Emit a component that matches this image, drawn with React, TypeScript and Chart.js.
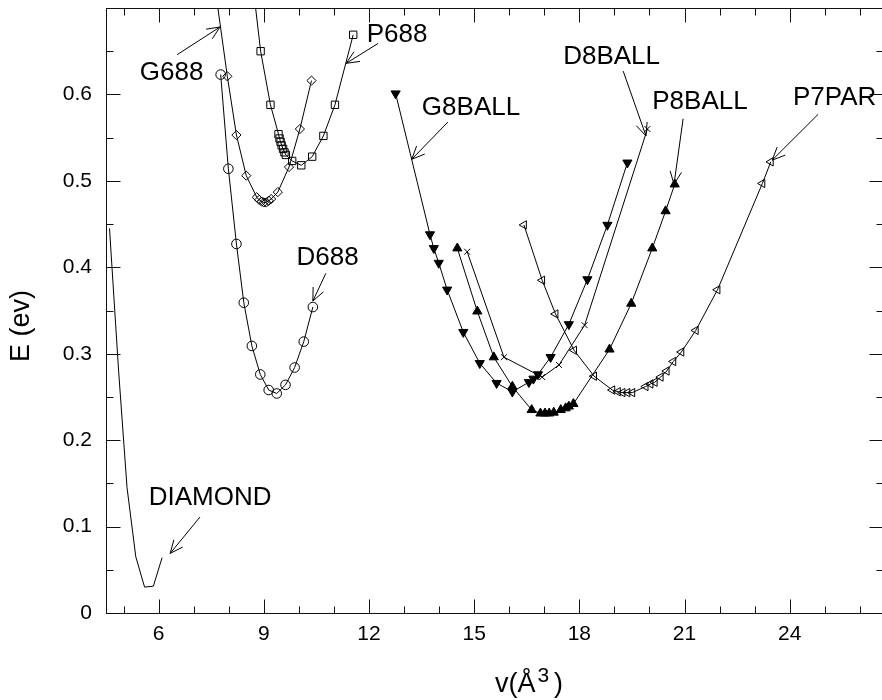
import React, { useEffect, useRef } from 'react';
import { Chart, registerables } from 'chart.js';

Chart.register(...registerables);

// ---------- tick values / labels ----------
const xTickValues = [6, 9, 12, 15, 18, 21, 24];
const xTickLabels = ['6', '9', '12', '15', '18', '21', '24'];
const xMinorTicks = [5, 7, 8, 10, 11, 13, 14, 16, 17, 19, 20, 22, 23, 25, 26];
const yTickValues = [0, 0.1, 0.2, 0.3, 0.4, 0.5, 0.6];
const yTickLabels = ['0', '0.1', '0.2', '0.3', '0.4', '0.5', '0.6'];
const yMinorTicks = [0.05, 0.15, 0.25, 0.35, 0.45, 0.55, 0.65];

// ---------- series ----------
const diamondV = [4.6, 4.86, 5.1, 5.35, 5.6, 5.85, 6.1];
const diamondE = [0.445, 0.28, 0.145, 0.065, 0.03, 0.031, 0.064];

const d688V = [7.77, 7.99, 8.22, 8.43, 8.66, 8.9, 9.14, 9.37, 9.62, 9.88, 10.14, 10.4];
const d688E = [0.623, 0.514, 0.427, 0.359, 0.309, 0.276, 0.258, 0.254, 0.264, 0.284, 0.314, 0.354];

const g688V = [7.35, 7.96, 8.22, 8.5, 8.8, 8.87, 8.94, 9.0, 9.07, 9.14, 9.21, 9.4, 9.72, 10.03, 10.36];
const g688E = [0.8, 0.621, 0.553, 0.506, 0.481, 0.478, 0.476, 0.475, 0.475, 0.477, 0.479, 0.487, 0.516, 0.56, 0.616];

const p688V = [8.48, 8.91, 9.19, 9.42, 9.45, 9.48, 9.51, 9.55, 9.59, 9.63, 9.81, 10.07, 10.38, 10.7, 11.03, 11.55];
const p688E = [0.8, 0.65, 0.588, 0.554, 0.549, 0.545, 0.541, 0.537, 0.533, 0.53, 0.523, 0.518, 0.528, 0.552, 0.588, 0.669];

const g8ballV = [12.76, 13.74, 13.85, 13.99, 14.23, 14.69, 15.16, 15.64, 16.09, 16.56, 16.69, 16.82, 17.18, 17.7, 18.23, 18.8, 19.37];
const g8ballE = [0.601, 0.438, 0.422, 0.405, 0.374, 0.325, 0.289, 0.266, 0.256, 0.267, 0.271, 0.276, 0.296, 0.334, 0.386, 0.449, 0.521];

const p8ballV = [14.52, 15.09, 15.56, 16.09, 16.64, 16.89, 17.02, 17.14, 17.27, 17.47, 17.61, 17.7, 17.83, 18.86, 19.48, 20.08, 20.46, 20.72];
const p8ballE = [0.422, 0.349, 0.296, 0.262, 0.235, 0.231, 0.231, 0.231, 0.232, 0.235, 0.237, 0.239, 0.242, 0.305, 0.358, 0.422, 0.465, 0.496];

const d8ballV = [14.8, 15.85, 16.94, 17.42, 18.15, 19.94];
const d8ballE = [0.418, 0.296, 0.273, 0.287, 0.333, 0.56];

const p7parV = [16.42, 16.94, 17.32, 17.85, 18.42, 18.94, 19.1, 19.23, 19.37, 19.51, 19.89, 20.03, 20.15, 20.32, 20.49, 20.68, 20.91, 21.32, 21.94, 23.22, 23.46];
const p7parE = [0.449, 0.385, 0.346, 0.304, 0.274, 0.258, 0.256, 0.255, 0.255, 0.255, 0.262, 0.265, 0.267, 0.273, 0.28, 0.291, 0.302, 0.327, 0.374, 0.497, 0.522];

// ---------- annotations (data coordinates) ----------
const annotations = [
  { text: 'G688', at: [6.37, 0.625], from: [6.53, 0.646], to: [7.75, 0.678] },
  { text: 'P688', at: [12.8, 0.669], from: [12.26, 0.659], to: [11.35, 0.636] },
  { text: 'D688', at: [10.82, 0.411], from: [10.77, 0.393], to: [10.4, 0.361] },
  { text: 'DIAMOND', at: [7.47, 0.133], from: [7.18, 0.111], to: [6.33, 0.069] },
  { text: 'G8BALL', at: [14.91, 0.585], from: [14.25, 0.568], to: [13.22, 0.525] },
  { text: 'D8BALL', at: [18.92, 0.644], from: [19.25, 0.627], to: [19.9, 0.552] },
  { text: 'P8BALL', at: [21.44, 0.591], from: [20.96, 0.572], to: [20.7, 0.496] },
  { text: 'P7PAR', at: [25.28, 0.596], from: [24.81, 0.577], to: [23.5, 0.524] },
];

const FONT = "'Liberation Sans', Arial, Helvetica, sans-serif";

const toXY = (xs: number[], ys: number[]) => xs.map((x, i) => ({ x, y: ys[i] }));

function series(label: string, xs: number[], ys: number[], style: any, radius: number, filled: boolean, rotation = 0) {
  return {
    label,
    data: toXY(xs, ys),
    showLine: true,
    borderColor: '#000',
    borderWidth: 1,
    tension: 0,
    pointStyle: style,
    pointRadius: radius,
    pointHoverRadius: radius,
    pointRotation: rotation,
    pointBorderColor: '#000',
    pointBorderWidth: 1,
    pointBackgroundColor: filled ? '#000' : 'rgba(0,0,0,0)',
  };
}

const framePlugin = {
  id: 'framePlugin',
  afterDraw(chart: any) {
    const { ctx, chartArea: a, scales } = chart;
    const xs = scales.x;
    const ys = scales.y;
    ctx.save();
    ctx.strokeStyle = '#111';
    ctx.lineWidth = 1;
    const L = Math.round(a.left) + 0.5;
    const R = Math.round(a.right) + 0.5;
    const T = Math.round(a.top) + 0.5;
    const B = Math.round(a.bottom) + 0.5;
    ctx.strokeRect(L, T, R - L, B - T);
    ctx.beginPath();
    const xt = (v: number, len: number) => {
      const p = Math.round(xs.getPixelForValue(v)) + 0.5;
      ctx.moveTo(p, B); ctx.lineTo(p, B - len);
      ctx.moveTo(p, T); ctx.lineTo(p, T + len);
    };
    const yt = (v: number, len: number) => {
      const p = Math.round(ys.getPixelForValue(v)) + 0.5;
      ctx.moveTo(L, p); ctx.lineTo(L + len, p);
      ctx.moveTo(R, p); ctx.lineTo(R - len, p);
    };
    xTickValues.forEach((v) => xt(v, 14));
    xMinorTicks.forEach((v) => xt(v, 7));
    yTickValues.forEach((v) => yt(v, 14));
    yMinorTicks.forEach((v) => yt(v, 7));
    ctx.stroke();

    // annotations
    ctx.fillStyle = '#000';
    ctx.strokeStyle = '#000';
    ctx.font = `26px ${FONT}`;
    ctx.textAlign = 'center';
    ctx.textBaseline = 'middle';
    annotations.forEach((an) => {
      const tx = xs.getPixelForValue(an.at[0]);
      const ty = ys.getPixelForValue(an.at[1]);
      ctx.fillText(an.text, tx, ty);
      const fx = xs.getPixelForValue(an.from[0]);
      const fy = ys.getPixelForValue(an.from[1]);
      const px = xs.getPixelForValue(an.to[0]);
      const py = ys.getPixelForValue(an.to[1]);
      const ang = Math.atan2(py - fy, px - fx);
      const hl = 14;
      const spread = 0.42;
      ctx.beginPath();
      ctx.moveTo(fx, fy);
      ctx.lineTo(px, py);
      ctx.moveTo(px - hl * Math.cos(ang - spread), py - hl * Math.sin(ang - spread));
      ctx.lineTo(px, py);
      ctx.lineTo(px - hl * Math.cos(ang + spread), py - hl * Math.sin(ang + spread));
      ctx.stroke();
    });

    // axis titles
    ctx.textAlign = 'left';
    ctx.textBaseline = 'alphabetic';
    const mainFont = `27px ${FONT}`;
    const supFont = `21px ${FONT}`;
    const p1 = 'v(Å';
    const p2 = '3';
    const p3 = ')';
    ctx.font = mainFont;
    const w1 = ctx.measureText(p1).width;
    const w3 = ctx.measureText(p3).width;
    ctx.font = supFont;
    const w2 = ctx.measureText(p2).width;
    const gapA = 2;
    const gapB = 5;
    const total = w1 + gapA + w2 + gapB + w3;
    const cx = 529;
    const base = 692;
    const x0 = cx - total / 2;
    ctx.font = mainFont;
    ctx.fillText(p1, x0, base);
    ctx.font = supFont;
    ctx.fillText(p2, x0 + w1 + gapA, base - 10);
    ctx.font = mainFont;
    ctx.fillText(p3, x0 + w1 + gapA + w2 + gapB, base);

    ctx.save();
    ctx.translate(22, 326);
    ctx.rotate(-Math.PI / 2);
    ctx.textAlign = 'center';
    ctx.textBaseline = 'middle';
    ctx.font = `27px ${FONT}`;
    ctx.fillText('E (ev)', 0, 0);
    ctx.restore();

    ctx.restore();
  },
};

export default function App() {
  const ref = useRef<HTMLCanvasElement>(null);
  useEffect(() => {
    if (!ref.current) return;
    const chart = new Chart(ref.current, {
      type: 'scatter',
      data: {
        datasets: [
          series('DIAMOND', diamondV, diamondE, 'circle', 0, false),
          series('D688', d688V, d688E, 'circle', 4.8, false),
          series('G688', g688V, g688E, 'rectRot', 4.6, false),
          series('P688', p688V, p688E, 'rect', 5.2, false),
          series('G8BALL', g8ballV, g8ballE, 'triangle', 5.3, true, 180),
          series('P8BALL', p8ballV, p8ballE, 'triangle', 5.3, true, 0),
          series('D8BALL', d8ballV, d8ballE, 'crossRot', 4.2, false),
          series('P7PAR', p7parV, p7parE, 'triangle', 4.8, false, 270),
        ] as any,
      },
      options: {
        animation: false,
        responsive: false,
        maintainAspectRatio: false,
        layout: { padding: { top: 8, right: 7, bottom: 0, left: 0 } },
        plugins: {
          legend: { display: false },
          tooltip: { enabled: false },
          title: { display: false },
        },
        scales: {
          x: {
            type: 'linear',
            min: 4.5,
            max: 26.66,
            afterBuildTicks: (s: any) => {
              s.ticks = xTickValues.map((v) => ({ value: v }));
            },
            afterFit: (s: any) => {
              s.height = 87;
              s.paddingLeft = 0;
              s.paddingRight = 0;
              s.paddingTop = 0;
              s.paddingBottom = 0;
            },
            ticks: {
              autoSkip: false,
              maxRotation: 0,
              padding: 9,
              color: '#000',
              font: { family: FONT, size: 21 },
              callback: (v: any) => {
                const i = xTickValues.indexOf(Number(v));
                return i >= 0 ? xTickLabels[i] : '';
              },
            },
            grid: { display: false, drawTicks: false },
            border: { display: false },
          },
          y: {
            type: 'linear',
            min: 0,
            max: 0.7,
            afterBuildTicks: (s: any) => {
              s.ticks = yTickValues.map((v) => ({ value: v }));
            },
            afterFit: (s: any) => {
              s.width = 106;
              s.paddingTop = 0;
              s.paddingBottom = 0;
              s.paddingLeft = 0;
              s.paddingRight = 0;
            },
            ticks: {
              autoSkip: false,
              padding: 14,
              color: '#000',
              font: { family: FONT, size: 21 },
              callback: (v: any) => {
                const i = yTickValues.findIndex((t) => Math.abs(t - Number(v)) < 1e-9);
                return i >= 0 ? yTickLabels[i] : '';
              },
            },
            grid: { display: false, drawTicks: false },
            border: { display: false },
          },
        },
      } as any,
      plugins: [framePlugin],
    });
    return () => chart.destroy();
  }, []);
  return (
    <div style={{ position: 'fixed', left: 0, top: 0, width: 890, height: 700, background: '#fff' }}>
      <canvas ref={ref} width={890} height={700} style={{ display: 'block' }} />
    </div>
  );
}
